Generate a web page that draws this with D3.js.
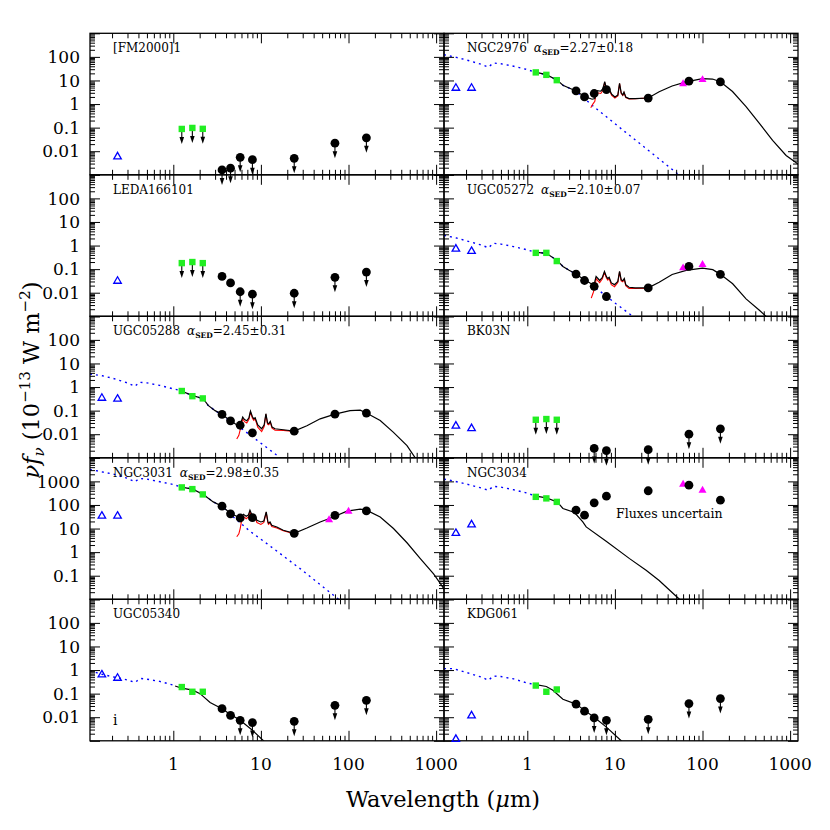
<!DOCTYPE html>
<html><head><meta charset="utf-8">
<script src="https://cdn.jsdelivr.net/npm/d3@7"></script>
<style>body{margin:0;background:#fff}svg{display:block}</style>
</head><body>
<svg id="c" width="830" height="830"></svg>
<script>
// ---------- wavelengths (micron) ----------
const uvWave   = [0.153, 0.231];
const nirWave  = [1.25, 1.65, 2.17];
const iracWave = [3.6, 4.5, 5.8, 8.0];
const mipsWave = [24, 70, 160];
const irasWave = [60, 100];

// ---------- tick labels ----------
const xTickLabels = [1, 10, 100, 1000];
const yTickLabelsStd = [0.01, 0.1, 1, 10, 100];
const yTickLabelsRow3 = [0.1, 1, 10, 100, 1000];

// ---------- [FM2000]1 ----------
const fm2000Uv = [null, 0.006];
const fm2000Nir = [0.088, 0.097, 0.089];
const fm2000Irac = [0.0016, 0.0019, 0.0055, 0.0044];
const fm2000Mips = [0.005, 0.022, 0.037];
const fm2000NirLim = [1, 1, 1];
const fm2000IracLim = [1, 1, 1, 1];
const fm2000MipsLim = [1, 1, 1];

// ---------- LEDA166101 ----------
const ledaUv = [null, 0.032];
const ledaNir = [0.18, 0.2, 0.18];
const ledaIrac = [0.049, 0.026, 0.011, 0.0087];
const ledaMips = [0.0095, 0.045, 0.075];
const ledaNirLim = [1, 1, 1];
const ledaIracLim = [0, 0, 1, 1];
const ledaMipsLim = [1, 1, 1];

// ---------- UGC05288 ----------
const u5288Uv = [0.35, 0.32];
const u5288Nir = [0.68, 0.41, 0.33];
const u5288Irac = [0.069, 0.037, 0.024, 0.0115];
const u5288Mips = [0.0135, 0.071, 0.079];
const u5288Stellar = [[0.112,3.6],[0.155,3.0],[0.2,2.4],[0.3,1.5],[0.365,1.07],[0.41,1.6],[0.5,1.5],[0.7,1.18],[1.0,0.84],[1.19,0.72],[1.67,0.43],[2.2,0.32],[2.5,0.166],[3.0,0.1],[3.6,0.066],[4.5,0.035],[5.5,0.022],[8,0.0078],[12,0.0025],[16.6,0.001],[20,0.0006]];
const u5288Dust = [[5.3,0.0063],[5.6,0.009],[5.9,0.02],[6.2,0.045],[6.5,0.034],[6.9,0.03],[7.3,0.043],[7.6,0.088],[8.0,0.048],[8.3,0.039],[8.6,0.045],[9.2,0.02],[10.2,0.013],[10.9,0.021],[11.4,0.07],[11.9,0.027],[12.3,0.025],[12.8,0.032],[13.4,0.018],[14.5,0.0148],[18,0.0145],[24,0.013]];
const u5288Total = [[1.19,0.72],[1.67,0.43],[2.2,0.32],[2.5,0.166],[3.0,0.1],[3.6,0.069],[4.5,0.037],[5.5,0.023],[5.9,0.03],[6.2,0.053],[6.5,0.042],[6.9,0.037],[7.3,0.05],[7.6,0.095],[8.0,0.055],[8.3,0.045],[8.6,0.05],[9.2,0.025],[10.2,0.017],[10.9,0.025],[11.4,0.074],[11.9,0.03],[12.3,0.028],[12.8,0.035],[13.4,0.02],[14.5,0.017],[18,0.0155],[24,0.0135],[33.5,0.023],[47.5,0.045],[70,0.071],[104,0.1],[136,0.105],[160,0.079],[230,0.038],[326,0.012],[465,0.0033],[577,0.001],[650,0.0005]];

// ---------- NGC3031 ----------
const n3031Uv = [35, 35];
const n3031Nir = [556, 470, 280];
const n3031Irac = [89, 42, 28, 29];
const n3031Mips = [6.3, 36, 56];
const n3031Iras = [24, 55];
const n3031Stellar = [[0.112,3100],[0.122,3000],[0.206,2040],[0.3,1350],[0.365,960],[0.41,1330],[0.5,1250],[0.705,960],[1.0,740],[1.19,590],[1.67,470],[2.2,280],[2.86,135],[3.6,86],[4.5,42],[4.85,31],[7.5,7.7],[11.7,2.3],[28,0.2],[62,0.019],[80,0.009]];
const n3031Dust = [[5.3,4.5],[5.6,6],[5.8,10],[6.0,20],[6.2,28],[6.3,33],[6.8,26],[7.2,31],[7.5,53],[7.9,32],[8.2,25],[8.6,30],[9.0,18],[10.0,15],[10.8,18],[11.5,48],[12.0,18],[12.2,15],[12.7,17],[13.3,12.3],[15.2,10.6],[18,8],[24,6.1]];
const n3031Total = [[1.19,590],[1.67,470],[2.2,280],[2.86,135],[3.6,89],[4.5,43.6],[5.3,33],[5.8,27],[6.1,34],[6.3,40],[6.8,33],[7.2,38],[7.5,60],[7.9,38],[8.2,31],[8.6,35],[9.0,22.5],[10.0,19],[10.8,21],[11.5,51],[12.0,20],[12.2,17],[12.7,19],[13.3,13.8],[15.2,11.7],[18,8.5],[24,6.3],[33.5,10.6],[47.5,19],[67,31],[96,55],[136,66],[160,60],[230,31],[326,10],[465,2.5],[660,0.53],[935,0.12],[1120,0.046],[1250,0.025]];

// ---------- UGC05340 ----------
const u5340Uv = [0.65, 0.47];
const u5340Nir = [0.19, 0.12, 0.12];
const u5340Irac = [0.023, 0.012, 0.0074, 0.0059];
const u5340Mips = [0.0067, 0.032, 0.052];
const u5340IracLim = [0, 0, 1, 1];
const u5340MipsLim = [1, 1, 1];
const u5340Stellar = [[0.112,0.95],[0.153,0.66],[0.231,0.47],[0.3,0.38],[0.365,0.3],[0.42,0.44],[0.5,0.41],[0.7,0.33],[1.0,0.23],[1.05,0.21]];
const u5340Total = [[1.05,0.21],[1.25,0.17],[1.67,0.14],[2.02,0.1],[2.63,0.042],[3.6,0.023],[4.5,0.013],[5.8,0.0074],[8.0,0.0028],[10.7,0.001],[13,0.0005]];

// ---------- NGC2976 ----------
const n2976Uv = [4.9, 4.9];
const n2976Nir = [22, 17.3, 10.3];
const n2976Irac = [3.6, 2.0, 2.8, 4.1];
const n2976Mips = [1.8, 9.3, 8.7];
const n2976Iras = [7.4, 11];
const n2976Stellar = [[0.112,124],[0.155,95],[0.2,75],[0.3,48],[0.36,37],[0.41,55],[0.5,51],[0.7,40],[1.0,29],[1.2,23],[1.65,17.5],[2.2,10.3],[2.55,6.3],[3.6,3.5],[4.5,1.7],[5.8,0.75],[8,0.29],[12,0.085],[20,0.019],[48,0.0014],[60,0.0007]];
const n2976Dust = [[5.3,0.7],[5.6,1.0],[5.9,1.3],[6.05,2.4],[6.3,3.0],[6.9,2.8],[7.3,3.8],[7.65,8.4],[8.0,4.0],[8.3,3.3],[8.6,3.9],[9.2,2.3],[10.0,1.8],[10.8,2.2],[11.3,7.3],[11.8,2.8],[12.3,2.3],[12.7,3.1],[13.3,1.9],[14.5,1.65],[17,1.68],[24,1.8]];
const n2976Total = [[1.2,23],[1.65,17.7],[2.2,10.3],[2.55,6.3],[3.0,4.8],[3.6,3.6],[4.5,2.1],[5.5,1.6],[5.9,1.7],[6.05,3.2],[6.3,3.7],[6.9,3.5],[7.3,4.5],[7.65,9.0],[8.0,4.5],[8.3,3.7],[8.6,4.3],[9.2,2.6],[10.0,2.0],[10.8,2.4],[11.3,7.5],[11.8,3.0],[12.3,2.4],[12.7,3.2],[13.3,2.0],[14.5,1.7],[17,1.7],[24,1.8],[32,3.3],[45,5.8],[65,8.7],[100,12.0],[130,11.5],[160,8.8],[220,3.4],[314,0.78],[446,0.15],[631,0.029],[900,0.0066],[1240,0.0028]];

// ---------- UGC05272 ----------
const u5272Uv = [0.74, 0.59];
const u5272Nir = [0.49, 0.49, 0.22];
const u5272Irac = [0.062, 0.033, 0.0186, 0.0069];
const u5272Mips = [0.016, 0.13, 0.06];
const u5272Iras = [0.115, 0.16];
const u5272Stellar = [[0.112,2.7],[0.155,2.1],[0.2,1.6],[0.3,1.05],[0.36,0.8],[0.41,1.25],[0.5,1.15],[0.7,0.9],[1.0,0.66],[1.2,0.53],[1.65,0.47],[2.2,0.23],[2.55,0.13],[3.6,0.06],[4.5,0.033],[5.13,0.026],[5.8,0.018],[8,0.0071],[10.3,0.0034],[15,0.0012],[20,0.0005]];
const u5272Dust = [[5.37,0.0059],[5.6,0.009],[5.96,0.019],[6.1,0.04],[6.4,0.032],[6.7,0.027],[7.2,0.039],[7.6,0.074],[8.0,0.042],[8.3,0.034],[8.6,0.04],[9.1,0.022],[9.9,0.018],[10.8,0.027],[11.3,0.077],[11.8,0.032],[12.3,0.029],[12.8,0.037],[13.3,0.02],[14.5,0.015],[17,0.015],[24,0.0155]];
const u5272Total = [[1.2,0.53],[1.65,0.47],[2.2,0.23],[2.55,0.13],[3.0,0.09],[3.6,0.062],[4.5,0.035],[5.2,0.026],[5.7,0.022],[5.9,0.03],[6.1,0.049],[6.4,0.04],[6.7,0.033],[7.2,0.045],[7.6,0.08],[8.0,0.048],[8.3,0.04],[8.6,0.045],[9.1,0.026],[9.9,0.022],[10.8,0.03],[11.3,0.08],[11.8,0.035],[12.3,0.032],[12.8,0.04],[13.3,0.022],[14.5,0.017],[17,0.016],[24,0.016],[32,0.028],[45,0.059],[65,0.089],[100,0.11],[131,0.095],[160,0.06],[221,0.024],[314,0.0055],[446,0.0018],[531,0.001],[600,0.0006]];

// ---------- BK03N ----------
const bk03Uv = [0.023, 0.018];
const bk03Nir = [0.041, 0.044, 0.041];
const bk03Irac = [null, null, 0.0025, 0.002];
const bk03Mips = [0.0022, 0.01, 0.017];
const bk03NirLim = [1, 1, 1];
const bk03IracLim = [0, 0, 1, 1];
const bk03MipsLim = [1, 1, 1];

// ---------- NGC3034 ----------
const n3034Uv = [6.5, 15];
const n3034Nir = [221, 190, 135];
const n3034Irac = [60, 37, 123, 237];
const n3034Mips = [400, 690, 160];
const n3034Iras = [770, 427];
const n3034Stellar = [[0.112,1250],[0.15,1000],[0.2,780],[0.3,520],[0.36,420],[0.41,620],[0.5,570],[0.7,440],[0.97,327],[1.21,245]];
const n3034Total = [[1.21,245],[1.65,200],[2.2,135],[2.55,71],[3.46,48],[4.3,19],[4.7,11.7],[7.95,2.9],[14.7,0.53],[22.7,0.17],[32,0.063],[54.5,0.01],[65,0.005]];

// ---------- KDG061 ----------
const kdgUv = [0.0012, 0.012];
const kdgNir = [0.22, 0.12, 0.15];
const kdgIrac = [0.036, 0.018, 0.0093, 0.0074];
const kdgMips = [0.0081, 0.038, 0.062];
const kdgIracLim = [0, 0, 1, 1];
const kdgMipsLim = [1, 1, 1];
const kdgStellar = [[0.112,1.15],[0.142,1.15],[0.2,0.8],[0.3,0.5],[0.36,0.37],[0.41,0.56],[0.5,0.53],[0.7,0.42],[0.97,0.29],[1.21,0.245]];
const kdgTotal = [[1.21,0.245],[1.65,0.2],[1.96,0.14],[2.55,0.058],[3.6,0.036],[4.5,0.0195],[5.8,0.01],[8.0,0.0038],[11.8,0.001],[14,0.0006]];

// ---------- panel table ----------
const panels = [
 {name:"[FM2000]1", col:0,row:0, uv:fm2000Uv, nir:fm2000Nir, nirLim:fm2000NirLim, irac:fm2000Irac, iracLim:fm2000IracLim, mips:fm2000Mips, mipsLim:fm2000MipsLim},
 {name:"LEDA166101", col:0,row:1, uv:ledaUv, nir:ledaNir, nirLim:ledaNirLim, irac:ledaIrac, iracLim:ledaIracLim, mips:ledaMips, mipsLim:ledaMipsLim},
 {name:"UGC05288", alpha:"2.45±0.31", col:0,row:2, uv:u5288Uv, nir:u5288Nir, irac:u5288Irac, mips:u5288Mips, stellar:u5288Stellar, dust:u5288Dust, total:u5288Total},
 {name:"NGC3031", alpha:"2.98±0.35", col:0,row:3, uv:n3031Uv, nir:n3031Nir, irac:n3031Irac, mips:n3031Mips, iras:n3031Iras, stellar:n3031Stellar, dust:n3031Dust, total:n3031Total},
 {name:"UGC05340", col:0,row:4, uv:u5340Uv, nir:u5340Nir, irac:u5340Irac, iracLim:u5340IracLim, mips:u5340Mips, mipsLim:u5340MipsLim, stellar:u5340Stellar, total:u5340Total, extra:"i"},
 {name:"NGC2976", alpha:"2.27±0.18", col:1,row:0, uv:n2976Uv, nir:n2976Nir, irac:n2976Irac, mips:n2976Mips, iras:n2976Iras, stellar:n2976Stellar, dust:n2976Dust, total:n2976Total},
 {name:"UGC05272", alpha:"2.10±0.07", col:1,row:1, uv:u5272Uv, nir:u5272Nir, irac:u5272Irac, mips:u5272Mips, iras:u5272Iras, stellar:u5272Stellar, dust:u5272Dust, total:u5272Total},
 {name:"BK03N", col:1,row:2, uv:bk03Uv, nir:bk03Nir, nirLim:bk03NirLim, irac:bk03Irac, iracLim:bk03IracLim, mips:bk03Mips, mipsLim:bk03MipsLim},
 {name:"NGC3034", col:1,row:3, uv:n3034Uv, nir:n3034Nir, irac:n3034Irac, mips:n3034Mips, iras:n3034Iras, stellar:n3034Stellar, total:n3034Total, note:"Fluxes uncertain"},
 {name:"KDG061", col:1,row:4, uv:kdgUv, nir:kdgNir, irac:kdgIrac, iracLim:kdgIracLim, mips:kdgMips, mipsLim:kdgMipsLim, stellar:kdgStellar, total:kdgTotal}
];

// ---------- drawing ----------
const svg = d3.select("#c");
const FONT = "DejaVu Serif, serif";
const PL = 90, PW = 354, PT = 33.3, PH = 141.5;
const xDomain = [0.112, 1230];
const GREEN = "#22ee22", BLUE = "#0000ff", MAG = "#ff00ff";

function minorTicks(domain) {
  const out = [];
  for (let e = -3; e <= 4; e++) for (let m = 2; m <= 9; m++) {
    const v = m * Math.pow(10, e);
    if (v > domain[0] && v < domain[1]) out.push(v);
  }
  return out;
}
function majorTicks(domain) {
  const out = [];
  for (let e = -3; e <= 4; e++) { const v = Math.pow(10, e); if (v >= domain[0]*0.999 && v <= domain[1]*1.001) out.push(v); }
  return out;
}
function triPath(cx, cy, s) {
  const h = s * 0.866;
  return `M${cx},${cy - h*0.62}L${cx + s/2},${cy + h*0.38}L${cx - s/2},${cy + h*0.38}Z`;
}

const defs = svg.append("defs");

panels.forEach(p => {
  const x0 = PL + p.col * PW, y0 = PT + p.row * PH;
  const x = d3.scaleLog().domain(xDomain).range([x0, x0 + PW]);
  const yd = p.row === 3 ? [0.01, 1e4] : [0.001, 1000];
  const y = d3.scaleLog().domain(yd).range([y0 + PH, y0]);
  const g = svg.append("g");
  const id = `clip${p.row}_${p.col}`;
  defs.append("clipPath").attr("id", id).append("rect").attr("x", x0).attr("y", y0).attr("width", PW).attr("height", PH);

  const line = d3.line().x(d => x(d[0])).y(d => y(d[1]));
  const cg = g.append("g").attr("clip-path", `url(#${id})`);
  if (p.stellar) cg.append("path").attr("d", line(p.stellar)).attr("fill", "none")
      .attr("stroke", BLUE).attr("stroke-width", 1.4).attr("stroke-dasharray", "2,4");
  if (p.dust) cg.append("path").attr("d", line(p.dust)).attr("fill", "none")
      .attr("stroke", "#ff0000").attr("stroke-width", 1.1);
  if (p.total) cg.append("path").attr("d", line(p.total)).attr("fill", "none")
      .attr("stroke", "#000").attr("stroke-width", 1.2);

  // frame
  g.append("rect").attr("x", x0).attr("y", y0).attr("width", PW).attr("height", PH)
    .attr("fill", "none").attr("stroke", "#000").attr("stroke-width", 1.3);

  // ticks via d3 axes
  const xMaj = majorTicks(xDomain), xMin = minorTicks(xDomain);
  const yMaj = majorTicks(yd), yMin = minorTicks(yd);
  const addAxis = (axis, tr) => {
    const a = g.append("g").attr("transform", tr).call(axis);
    a.select(".domain").remove();
    a.selectAll("line").attr("stroke-width", 1);
  };
  [[xMaj, 10], [xMin, 5]].forEach(([vals, len]) => {
    addAxis(d3.axisTop(x).tickValues(vals).tickSize(len).tickFormat(""), `translate(0,${y0 + PH})`);
    addAxis(d3.axisBottom(x).tickValues(vals).tickSize(len).tickFormat(""), `translate(0,${y0})`);
  });
  [[yMaj, 10], [yMin, 5]].forEach(([vals, len]) => {
    addAxis(d3.axisRight(y).tickValues(vals).tickSize(len).tickFormat(""), `translate(${x0},0)`);
    addAxis(d3.axisLeft(y).tickValues(vals).tickSize(len).tickFormat(""), `translate(${x0 + PW},0)`);
  });

  // y tick labels (left column)
  if (p.col === 0) {
    const labs = p.row === 3 ? yTickLabelsRow3 : yTickLabelsStd;
    labs.forEach(v => {
      svg.append("text").attr("x", 80).attr("y", y(v)).attr("dy", "0.36em")
        .attr("text-anchor", "end").attr("font-family", FONT).attr("font-size", 17)
        .text(String(v));
    });
  }
  // x tick labels (bottom row)
  if (p.row === 4) {
    xTickLabels.forEach(v => {
      svg.append("text").attr("x", x(v)).attr("y", 770).attr("text-anchor", "middle")
        .attr("font-family", FONT).attr("font-size", 17).text(String(v));
    });
  }

  // panel label
  const t = svg.append("text").attr("x", x0 + 23).attr("y", y0 + 19)
    .attr("font-family", FONT).attr("font-size", 12).attr("fill", "#000");
  t.append("tspan").text(p.name);
  if (p.alpha) {
    t.append("tspan").attr("dx", 7).attr("font-style", "italic").text("α");
    t.append("tspan").attr("font-size", 7.5).attr("font-weight", "bold").attr("dy", 3).text("SED");
    t.append("tspan").attr("dy", -3).text("=" + p.alpha);
  }
  if (p.note) svg.append("text").attr("x", x0 + 172).attr("y", y0 + 60)
      .attr("font-family", FONT).attr("font-size", 12.5).text(p.note);
  if (p.extra) svg.append("text").attr("x", x0 + 23).attr("y", y0 + 126)
      .attr("font-family", FONT).attr("font-size", 14).text(p.extra);

  const mg = svg.append("g");
  const arrow = (cx, cy) => {
    mg.append("line").attr("x1", cx).attr("x2", cx).attr("y1", cy).attr("y2", cy + 10)
      .attr("stroke", "#000").attr("stroke-width", 1.1);
    mg.append("path").attr("d", `M${cx - 2.3},${cy + 8}L${cx + 2.3},${cy + 8}L${cx},${cy + 15}Z`).attr("fill", "#000");
  };

  // UV open triangles
  (p.uv || []).forEach((v, i) => {
    if (v == null) return;
    mg.append("path").attr("d", triPath(x(uvWave[i]), y(v), 7.5)).attr("fill", "none")
      .attr("stroke", BLUE).attr("stroke-width", 1.3);
  });
  // NIR squares
  (p.nir || []).forEach((v, i) => {
    if (v == null) return;
    const cx = x(nirWave[i]), cy = y(v);
    if (p.nirLim && p.nirLim[i]) arrow(cx, cy);
    mg.append("rect").attr("x", cx - 3.2).attr("y", cy - 3.2).attr("width", 6.4).attr("height", 6.4).attr("fill", GREEN);
  });
  // IRAS magenta triangles
  (p.iras || []).forEach((v, i) => {
    if (v == null) return;
    mg.append("path").attr("d", triPath(x(irasWave[i]), y(v), 8)).attr("fill", MAG);
  });
  // IRAC + MIPS circles
  const circ = (waves, vals, lims) => (vals || []).forEach((v, i) => {
    if (v == null) return;
    const cx = x(waves[i]), cy = y(v);
    if (lims && lims[i]) arrow(cx, cy);
    mg.append("circle").attr("cx", cx).attr("cy", cy).attr("r", 4.4).attr("fill", "#000");
  });
  circ(iracWave, p.irac, p.iracLim);
  circ(mipsWave, p.mips, p.mipsLim);
});

// axis titles
const xl = svg.append("text").attr("x", 443).attr("y", 807).attr("text-anchor", "middle")
  .attr("font-family", FONT).attr("font-size", 22.5);
xl.append("tspan").text("Wavelength (");
xl.append("tspan").attr("font-style", "italic").text("μ");
xl.append("tspan").text("m)");

const yl = svg.append("text").attr("transform", "translate(39,380) rotate(-90)")
  .attr("text-anchor", "middle").attr("font-family", FONT).attr("font-size", 22.5);
yl.append("tspan").attr("font-style", "italic").text("νf");
yl.append("tspan").attr("font-style", "italic").attr("font-size", 15).attr("dy", 5).text("ν");
yl.append("tspan").attr("dy", -5).text(" (10");
yl.append("tspan").attr("font-size", 15).attr("dy", -9).text("−13");
yl.append("tspan").attr("dy", 9).text(" W m");
yl.append("tspan").attr("font-size", 15).attr("dy", -9).text("−2");
yl.append("tspan").attr("dy", 9).text(")");
</script>
</body></html>
